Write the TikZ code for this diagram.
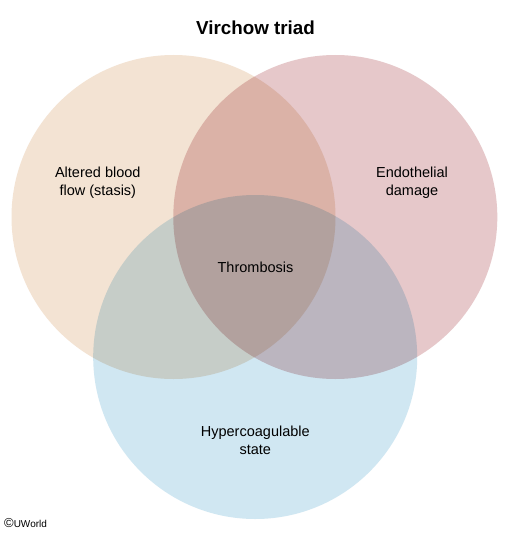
\documentclass[tikz,border=0pt]{standalone}
\usepackage{fontspec}
\setmainfont{Liberation Sans}
\definecolor{cstasis}{HTML}{F3E3D3}
\definecolor{cendo}{HTML}{E6C8CA}
\definecolor{chyper}{HTML}{D0E7F2}
\tikzset{
  venn/.style={circle, minimum size=324pt, inner sep=0pt, draw=none},
  lbl/.style={align=center, font=\fontsize{14.5}{18.3}\selectfont, text=black},
}
\begin{document}
\begin{tikzpicture}[x=1pt,y=-1pt]
\useasboundingbox[fill=white] (0,0) rectangle (510,535);
\node[font=\fontsize{18.8}{22}\selectfont\bfseries] (title) at (255.5,28) {Virchow triad};
\begin{scope}[blend group=multiply]
\node[venn, fill=cstasis] (stasis) at (173.5,217) {};
\node[venn, fill=cendo] (endo) at (335.3,217) {};
\node[venn, fill=chyper] (hyper) at (255.2,357) {};
\end{scope}
\node[lbl] (t1) at (97.8,182.5) {Altered blood\\flow (stasis)};
\node[lbl] (t2) at (412,182.5) {Endothelial\\damage};
\node[lbl] (t3) at (255.5,267) {Thrombosis};
\node[lbl] (t4) at (255.3,440) {Hypercoagulable\\state};
\node[anchor=west, font=\fontsize{10}{11}\selectfont, inner sep=0pt] (copy) at (4,523.5) {{\fontsize{13}{13}\selectfont\textcopyright}UWorld};
\end{tikzpicture}
\end{document}
